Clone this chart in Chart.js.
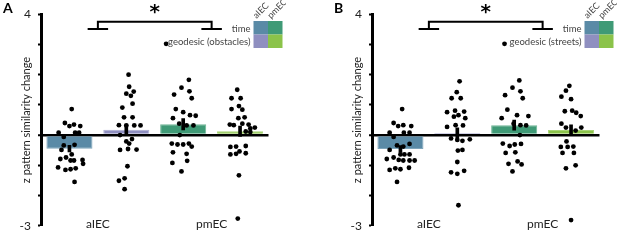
<!DOCTYPE html>
<html>
<head>
<meta charset="utf-8">
<script src="https://cdn.jsdelivr.net/npm/chart.js@4.4.1/dist/chart.umd.min.js"></script>
<style>
    body { margin: 0; background: #fff; width: 617px; height: 240px; position: relative; overflow: hidden; }
    canvas { position: absolute; top: 0; }
    #chartA { left: 0; }
    #chartB { left: 331px; }
</style>
</head>
<body>
<canvas id="chartA" width="286" height="240"></canvas>
<canvas id="chartB" width="286" height="240"></canvas>
<script>
// Regions and conditions
const regions = ['aIEC', 'pmEC'];
const barKeys = ['aIEC time', 'aIEC geodesic', 'pmEC time', 'pmEC geodesic'];
const yTickLabels = [4, -3];

// Panel A: time vs geodesic (obstacles)
const meansA = [-0.45, 0.18, 0.36, 0.13];
const semA = [0.11, 0.17, 0.19, 0.17];
// [jitter, value] per participant
const dotsA1 = [[0.04,0.86],[-0.08,0.40],[0.0,0.30],[0.08,0.35],[0.19,0.30],[-0.19,0.08],[0.10,0.08],[0.17,0.08],[-0.10,-0.06],[-0.10,-0.34],[0.09,-0.32],[-0.14,-0.49],[0.04,-0.64],[-0.16,-0.79],[-0.06,-0.74],[0.02,-0.84],[0.08,-0.84],[0.23,-0.82],[0.24,-0.95],[-0.20,-1.07],[-0.07,-1.15],[0.02,-1.13],[0.11,-1.10],[0.09,-1.55]];
const dotsA2 = [[0.04,2.00],[0.05,1.60],[0.0,1.37],[0.13,1.44],[0.08,1.30],[0.11,1.04],[-0.07,0.91],[-0.04,0.59],[0.11,0.59],[-0.13,0.33],[0.0,0.32],[0.14,0.32],[0.25,0.32],[-0.11,0.0],[0.10,-0.13],[0.0,-0.21],[0.05,-0.28],[-0.11,-0.49],[0.03,-0.46],[0.18,-0.48],[0.02,-1.03],[-0.13,-1.51],[-0.03,-1.43],[-0.03,-1.79]];
const dotsA3 = [[-0.30,3.02],[0.10,1.83],[-0.03,1.57],[0.11,1.45],[-0.16,1.34],[0.15,1.22],[-0.13,0.86],[0.0,0.76],[0.12,0.66],[0.22,0.64],[-0.18,0.56],[-0.07,0.38],[0.06,0.32],[0.18,0.32],[-0.06,0.0],[-0.20,-0.28],[-0.10,-0.31],[0.0,-0.31],[0.10,-0.28],[0.15,-0.38],[-0.18,-0.57],[0.06,-0.62],[-0.19,-0.92],[0.07,-0.85],[-0.03,-1.20]];
const dotsA4 = [[-0.05,1.50],[-0.15,1.22],[0.01,1.22],[-0.02,0.96],[-0.15,0.86],[0.04,0.84],[-0.03,0.56],[0.08,0.59],[-0.18,0.35],[-0.11,0.33],[0.04,0.38],[0.15,0.35],[0.18,0.22],[0.26,0.25],[0.10,0.12],[0.18,0.10],[-0.17,-0.39],[-0.07,-0.38],[0.10,-0.36],[-0.01,-0.54],[-0.07,-0.62],[0.10,-0.60],[-0.17,-0.64],[-0.02,-1.33],[-0.04,-2.76]];

// Panel B: time vs geodesic (streets)
const meansB = [-0.46, 0.07, 0.33, 0.17];
const semB = [0.11, 0.17, 0.17, 0.17];
const dotsB1 = [[0.03,0.86],[-0.12,0.40],[-0.04,0.30],[0.05,0.33],[0.19,0.30],[-0.19,0.08],[0.06,0.08],[0.16,0.08],[-0.12,-0.06],[0.16,-0.29],[-0.06,-0.34],[0.05,-0.38],[-0.19,-0.49],[0.0,-0.64],[0.07,-0.64],[0.16,-0.64],[-0.24,-0.79],[-0.12,-0.74],[-0.03,-0.82],[0.05,-0.84],[0.16,-0.84],[0.25,-0.84],[-0.19,-1.15],[-0.09,-1.10],[0.0,-1.13],[0.15,-1.08],[-0.06,-1.55]];
const dotsB2 = [[0.04,1.78],[-0.01,1.42],[-0.10,1.22],[0.06,1.22],[-0.18,0.76],[-0.04,0.81],[0.12,0.78],[-0.06,0.61],[0.02,0.66],[0.14,0.56],[-0.03,0.33],[0.10,0.32],[-0.18,0.27],[-0.11,-0.11],[0.0,-0.16],[0.09,-0.19],[0.22,-0.14],[0.01,-0.51],[0.09,-0.49],[0.0,-0.89],[-0.11,-1.23],[0.0,-1.28],[0.12,-1.18],[0.02,-2.32]];
const dotsB3 = [[-0.17,3.02],[0.09,1.81],[-0.03,1.57],[0.11,1.45],[-0.16,1.32],[0.15,1.22],[-0.12,0.84],[0.05,0.66],[0.25,0.63],[-0.22,0.56],[-0.01,0.38],[0.11,0.33],[0.21,0.32],[0.10,0.0],[-0.20,-0.28],[-0.08,-0.36],[0.01,-0.31],[0.12,-0.29],[-0.15,-0.59],[0.02,-0.57],[-0.10,-0.95],[0.06,-0.87],[0.13,-0.97],[-0.03,-1.20]];
const dotsB4 = [[-0.03,1.63],[-0.09,1.47],[-0.17,1.27],[0.0,1.19],[-0.11,0.79],[0.02,0.81],[0.09,0.74],[0.17,0.63],[-0.17,0.38],[-0.09,0.25],[0.18,0.25],[0.08,0.15],[-0.08,-0.21],[-0.18,-0.39],[-0.06,-0.39],[0.04,-0.38],[-0.15,-0.59],[0.05,-0.59],[-0.09,-1.10],[0.08,-1.00],[0.0,-2.81]];

// Bar colours: aIEC time, aIEC geodesic, pmEC time, pmEC geodesic
const barColors = ['#5a8aa6', '#8f8fc0', '#3f9a76', '#8bc34a'];
const barEdges = ['#7ea5bb', '#aeaed3', '#6fb595', '#a9d477'];

// To draw letters, region names, the significance bracket and the colour key
const annotations = {
    id: 'annotations',
    afterDatasetsDraw(chart, args, opts) {
        const ctx = chart.ctx;
        const xs = chart.scales.xs;
        const y = chart.scales.y;
        const area = chart.chartArea;
        ctx.save();

        // Panel letter
        ctx.fillStyle = '#000';
        ctx.font = 'bold 14px Lato, sans-serif';
        ctx.textAlign = 'left';
        ctx.textBaseline = 'alphabetic';
        ctx.fillText(opts.letter, 3, 13);

        // Region names under each pair of bars
        ctx.font = '12px Lato, sans-serif';
        ctx.fillStyle = '#222';
        ctx.textAlign = 'center';
        ctx.textBaseline = 'middle';
        regions.forEach((r, i) => {
            ctx.fillText(r, xs.getPixelForValue(2 * i + 1.5), y.getPixelForValue(-3) - 2);
        });

        // Significance bracket between regions
        const xl = xs.getPixelForValue(1.5);
        const xr = xs.getPixelForValue(3.5);
        const yt = y.getPixelForValue(3.75);
        const yb = y.getPixelForValue(3.51);
        const foot = 0.18 * (xs.getPixelForValue(1) - xs.getPixelForValue(0));
        ctx.strokeStyle = '#000';
        ctx.lineWidth = 2;
        ctx.beginPath();
        ctx.moveTo(xl, yb); ctx.lineTo(xl, yt); ctx.lineTo(xr, yt); ctx.lineTo(xr, yb);
        ctx.moveTo(xl - foot, yb); ctx.lineTo(xl + foot, yb);
        ctx.moveTo(xr - foot, yb); ctx.lineTo(xr + foot, yb);
        ctx.stroke();
        ctx.font = 'bold 20px "DejaVu Sans", sans-serif';
        ctx.textBaseline = 'alphabetic';
        ctx.fillStyle = '#000';
        ctx.fillText('*', xs.getPixelForValue(2.5), 18);

        // Colour key (2 x 2)
        const gx = area.right - 15, gy = 21, cw = 14.5, ch = 13.5;
        ctx.fillStyle = barColors[0]; ctx.fillRect(gx, gy, cw, ch);
        ctx.fillStyle = barColors[2]; ctx.fillRect(gx + cw, gy, cw, ch);
        ctx.fillStyle = barColors[1]; ctx.fillRect(gx, gy + ch, cw, ch);
        ctx.fillStyle = barColors[3]; ctx.fillRect(gx + cw, gy + ch, cw, ch);

        ctx.fillStyle = '#444';
        ctx.font = '9.5px Lato, sans-serif';
        ctx.textAlign = 'right';
        ctx.textBaseline = 'middle';
        ctx.fillText('time', gx - 3, gy + ch / 2 + 1);
        ctx.fillText(opts.geoLabel, gx - 3, gy + ch * 1.5 + 1);

        ctx.font = '9px Lato, sans-serif';
        ctx.textAlign = 'left';
        ctx.textBaseline = 'alphabetic';
        regions.forEach((r, i) => {
            ctx.save();
            ctx.translate(gx + i * cw + 3, gy - 2);
            ctx.rotate(-Math.PI / 4);
            ctx.fillText(r, 0, 0);
            ctx.restore();
        });
        ctx.restore();
    }
};

// To build one panel
function makePanel(canvasId, letter, geoLabel, means, sems, dotGroups) {
    const points = [];
    dotGroups.forEach((group, i) => {
        group.forEach(d => points.push({ x: i + 1 + d[0], y: d[1] }));
    });
    const errs = means.map((m, i) => [m - sems[i], m + sems[i]]);

    const ctx = document.getElementById(canvasId).getContext('2d');
    return new Chart(ctx, {
        type: 'bar',
        data: {
            labels: barKeys,
            datasets: [
                {
                    type: 'scatter',
                    xAxisID: 'xs',
                    data: points,
                    backgroundColor: '#000',
                    borderWidth: 0,
                    pointRadius: 2.4,
                    order: 0
                },
                {
                    type: 'bar',
                    xAxisID: 'x',
                    data: errs,
                    backgroundColor: '#000',
                    barThickness: 3,
                    grouped: false,
                    order: 1
                },
                {
                    type: 'bar',
                    xAxisID: 'x',
                    data: means,
                    backgroundColor: barColors,
                    borderColor: barEdges,
                    borderWidth: 1,
                    grouped: false,
                    categoryPercentage: 0.81,
                    barPercentage: 1,
                    order: 2
                }
            ]
        },
        options: {
            responsive: false,
            animation: false,
            layout: { padding: { top: 6, bottom: 5, left: 0, right: 17.5 } },
            scales: {
                x: { display: false },
                xs: { type: 'linear', display: false, offset: false, min: 0.5, max: 4.5 },
                y: {
                    min: -3,
                    max: 4,
                    afterFit: s => { s.width = 41; },
                    ticks: {
                        stepSize: 1,
                        padding: 7,
                        color: '#222',
                        font: { size: 12, family: 'Lato, sans-serif' },
                        callback: v => yTickLabels.includes(v) ? String(v) : ''
                    },
                    grid: {
                        drawOnChartArea: true,
                        color: c => (c.tick && c.tick.value === 0) ? '#000' : 'rgba(0,0,0,0)',
                        lineWidth: c => (c.tick && c.tick.value === 0) ? 2.5 : 1,
                        tickColor: '#000',
                        tickLength: 3,
                        tickWidth: 2
                    },
                    border: { color: '#000', width: 3 },
                    title: {
                        display: true,
                        text: 'z pattern similarity change',
                        color: '#222',
                        font: { size: 11, family: 'Lato, sans-serif' },
                        padding: { top: 20, bottom: 0 }
                    }
                }
            },
            plugins: {
                legend: { display: false },
                tooltip: { enabled: false },
                annotations: { letter: letter, geoLabel: geoLabel }
            }
        },
        plugins: [annotations]
    });
}

makePanel('chartA', 'A', 'geodesic (obstacles)', meansA, semA, [dotsA1, dotsA2, dotsA3, dotsA4]);
makePanel('chartB', 'B', 'geodesic (streets)', meansB, semB, [dotsB1, dotsB2, dotsB3, dotsB4]);
</script>
</body>
</html>
